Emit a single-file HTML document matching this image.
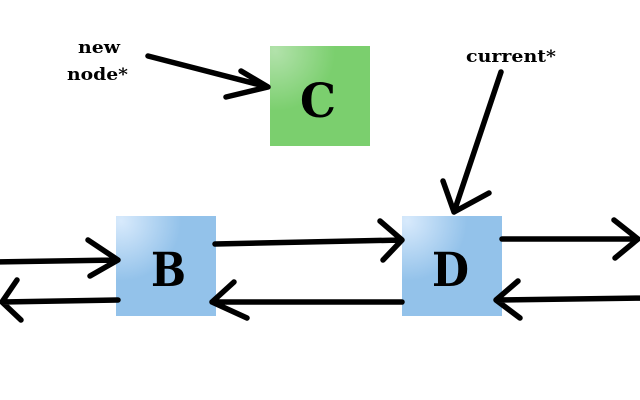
<!DOCTYPE html>
<html><head><meta charset="utf-8"><style>
html,body{margin:0;padding:0;background:#fff;width:640px;height:400px;overflow:hidden}
svg{display:block}
.t{font-family:"DejaVu Serif","Liberation Serif",serif;font-weight:bold;fill:#000}
.a{stroke:#000;stroke-width:5.5;fill:none;stroke-linecap:round;stroke-linejoin:round}
</style></head><body>
<svg width="640" height="400" viewBox="0 0 640 400">
<defs>
<radialGradient id="gg" cx="0.05" cy="0.05" r="0.6">
<stop offset="0" stop-color="#b2e2ab"/><stop offset="1" stop-color="#7bcf6e"/></radialGradient>
<radialGradient id="bg" cx="0.05" cy="0.05" r="0.6">
<stop offset="0" stop-color="#d8eafc"/><stop offset="1" stop-color="#93c2ea"/></radialGradient>
</defs>
<rect x="270" y="46" width="100" height="100" fill="url(#gg)"/>
<rect x="116" y="216" width="100" height="100" fill="url(#bg)"/>
<rect x="402" y="216" width="100" height="100" fill="url(#bg)"/>
<text class="t" x="300" y="117" font-size="47" textLength="36" lengthAdjust="spacingAndGlyphs">C</text>
<text class="t" x="151" y="286" font-size="47" textLength="35" lengthAdjust="spacingAndGlyphs">B</text>
<text class="t" x="432" y="286" font-size="47" textLength="37" lengthAdjust="spacingAndGlyphs">D</text>
<text class="t" x="78" y="53" font-size="17" textLength="42" lengthAdjust="spacingAndGlyphs">new</text>
<text class="t" x="67" y="80" font-size="17" textLength="61" lengthAdjust="spacingAndGlyphs">node*</text>
<text class="t" x="466" y="62" font-size="17" textLength="90" lengthAdjust="spacingAndGlyphs">current*</text>
<g><path class="a" d="M148 56 L268 87 M241 71 L268 87 L226 97"/></g>
<g><path class="a" d="M501 72 L454 212 M443 181 L454 212 L489 193"/></g>
<g><path class="a" d="M215 244 L402 240 M380 221 L402 240 L383 260"/></g>
<g><path class="a" d="M402 302 L212 302 M234 282 L212 302 L247 318"/></g>
<g><path class="a" d="M-5 262 L118 260 M88 240 L118 260 L90 276"/></g>
<g><path class="a" d="M118 300 L2 302 M17 280 L2 302 L21 320"/></g>
<g><path class="a" d="M502 239 L638 239 M614 220 L638 239 L615 258"/></g>
<g><path class="a" d="M645 298 L496 300 M518 281 L496 300 L520 318"/></g>
</svg>
</body></html>
